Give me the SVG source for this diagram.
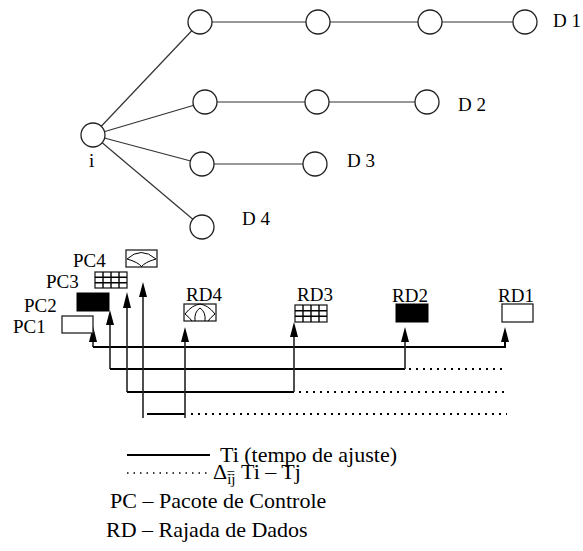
<svg xmlns="http://www.w3.org/2000/svg" width="583" height="551" viewBox="0 0 583 551">
<style>
text{font-family:"Liberation Serif","Times New Roman",serif;font-size:19px;fill:#000}
.lg{font-size:22px}
.e{stroke:#333;stroke-width:1.2;fill:none}
.n{fill:#fff;stroke:#222;stroke-width:1.3}
.w{stroke:#000;stroke-width:2;fill:none}
.v{stroke:#222;stroke-width:1.6;fill:none}
.d{stroke:#000;stroke-width:2;fill:none;stroke-dasharray:2 5}
.ah{fill:#000}
.bx{fill:#fff;stroke:#222;stroke-width:1.3}
.bk{fill:#000;stroke:#000;stroke-width:1}
.g{stroke:#000;stroke-width:1.4;fill:none}
</style>
<g id="connectors">
<line class="e" x1="93" y1="135" x2="200" y2="22"/>
<line class="e" x1="93" y1="135" x2="205" y2="102"/>
<line class="e" x1="93" y1="135" x2="202" y2="164"/>
<line class="e" x1="93" y1="135" x2="202" y2="227"/>
<line class="e" x1="200" y1="22" x2="525" y2="22"/>
<line class="e" x1="205" y1="102" x2="427" y2="102"/>
<line class="e" x1="202" y1="164" x2="315" y2="164"/>
</g>
<g id="node-i"><circle class="n" cx="93" cy="135" r="12"/><text x="89" y="167">i</text></g>
<g id="node-r1a"><circle class="n" cx="200" cy="22" r="12"/></g>
<g id="node-r1b"><circle class="n" cx="318" cy="22" r="12"/></g>
<g id="node-r1c"><circle class="n" cx="430" cy="22" r="12"/></g>
<g id="node-D1"><circle class="n" cx="525" cy="22" r="12"/><text x="553" y="27">D 1</text></g>
<g id="node-r2a"><circle class="n" cx="205" cy="102" r="12"/></g>
<g id="node-r2b"><circle class="n" cx="317" cy="102" r="12"/></g>
<g id="node-D2"><circle class="n" cx="427" cy="102" r="12"/><text x="458" y="111">D 2</text></g>
<g id="node-r3a"><circle class="n" cx="202" cy="164" r="12"/></g>
<g id="node-D3"><circle class="n" cx="315" cy="164" r="12"/><text x="347" y="167">D 3</text></g>
<g id="node-D4"><circle class="n" cx="202" cy="227" r="12"/><text x="242" y="225">D 4</text></g>

<g id="timing">
<path class="v" d="M93,340 V347"/>
<path class="w" d="M93,347 H505 V340"/>
<path class="v" d="M110,323 V369"/>
<path class="w" d="M110,369 H405"/>
<path class="v" d="M405,369 V340"/>
<path class="d" d="M409,369 H507"/>
<path class="v" d="M127,306 V392"/>
<path class="w" d="M127,392 H294"/>
<path class="v" d="M294,392 V335"/>
<path class="d" d="M299,392 H507"/>
<path class="v" d="M143,295 V418"/>
<path class="w" d="M147,414 H185"/>
<path class="v" d="M185,418 V340"/>
<path class="d" d="M191,414 H507"/>
<polygon class="ah" points="93,326 89,342 97,342"/>
<polygon class="ah" points="505,327 501,342 509,342"/>
<polygon class="ah" points="110,310 106,325 114,325"/>
<polygon class="ah" points="405,327 401,342 409,342"/>
<polygon class="ah" points="127,292 123,308 131,308"/>
<polygon class="ah" points="294,322 290,337 298,337"/>
<polygon class="ah" points="143,282 139,297 147,297"/>
<polygon class="ah" points="185,327 181,342 189,342"/>
</g>

<g id="PC1"><rect class="bx" x="62" y="316" width="31" height="17"/><text x="13" y="333">PC1</text></g>
<g id="PC2"><rect class="bk" x="77" y="293" width="32" height="18"/><text x="24" y="312">PC2</text></g>
<g id="PC3"><rect class="bx" x="95" y="272" width="32" height="16"/>
<path class="g" d="M103,272V288M111,272V288M119,272V288M95,277.3H127M95,282.7H127"/><text x="46" y="288">PC3</text></g>
<g id="PC4"><rect class="bx" x="126" y="250" width="31" height="17"/>
<path class="g" style="stroke-width:1" d="M127,259 Q141,246 156,259 M127,259 Q138,262 142,267 M156,259 Q145,262 141,267"/><text x="73" y="267">PC4</text></g>
<g id="RD4"><rect class="bx" x="184" y="304" width="32" height="17"/>
<path class="g" style="stroke-width:1" d="M185,314 Q192,305 200,304 Q208,305 215,314 M185,314 Q190,318 192,321 M200,308 Q194,312 195,321 M200,308 Q206,312 205,321 M215,314 Q210,318 208,321"/><text x="186" y="301">RD4</text></g>
<g id="RD3"><rect class="bx" x="295" y="305" width="32" height="17"/>
<path class="g" d="M303,305V322M311,305V322M319,305V322M295,310.7H327M295,316.3H327"/><text x="297" y="301">RD3</text></g>
<g id="RD2"><rect class="bk" x="396" y="304" width="32" height="18"/><text x="392" y="302">RD2</text></g>
<g id="RD1"><rect class="bx" x="502" y="304" width="31" height="18"/><text x="498" y="302">RD1</text></g>

<g id="legend">
<line x1="127" y1="455" x2="210" y2="455" stroke="#000" stroke-width="2"/>
<text class="lg" x="220" y="462">Ti (tempo de ajuste)</text>
<line x1="127" y1="473" x2="207" y2="473" stroke="#000" stroke-width="1.5" stroke-dasharray="1.5 5"/>
<text class="lg" x="213" y="479">Δ<tspan dy="5" style="font-size:15px">ij</tspan><tspan dx="-9" dy="-6" style="font-size:15px">=</tspan><tspan dx="6" dy="1">Ti – Tj</tspan></text>
<text class="lg" x="110" y="508">PC – Pacote de Controle</text>
<text class="lg" x="106" y="537">RD – Rajada de Dados</text>
</g>
</svg>
